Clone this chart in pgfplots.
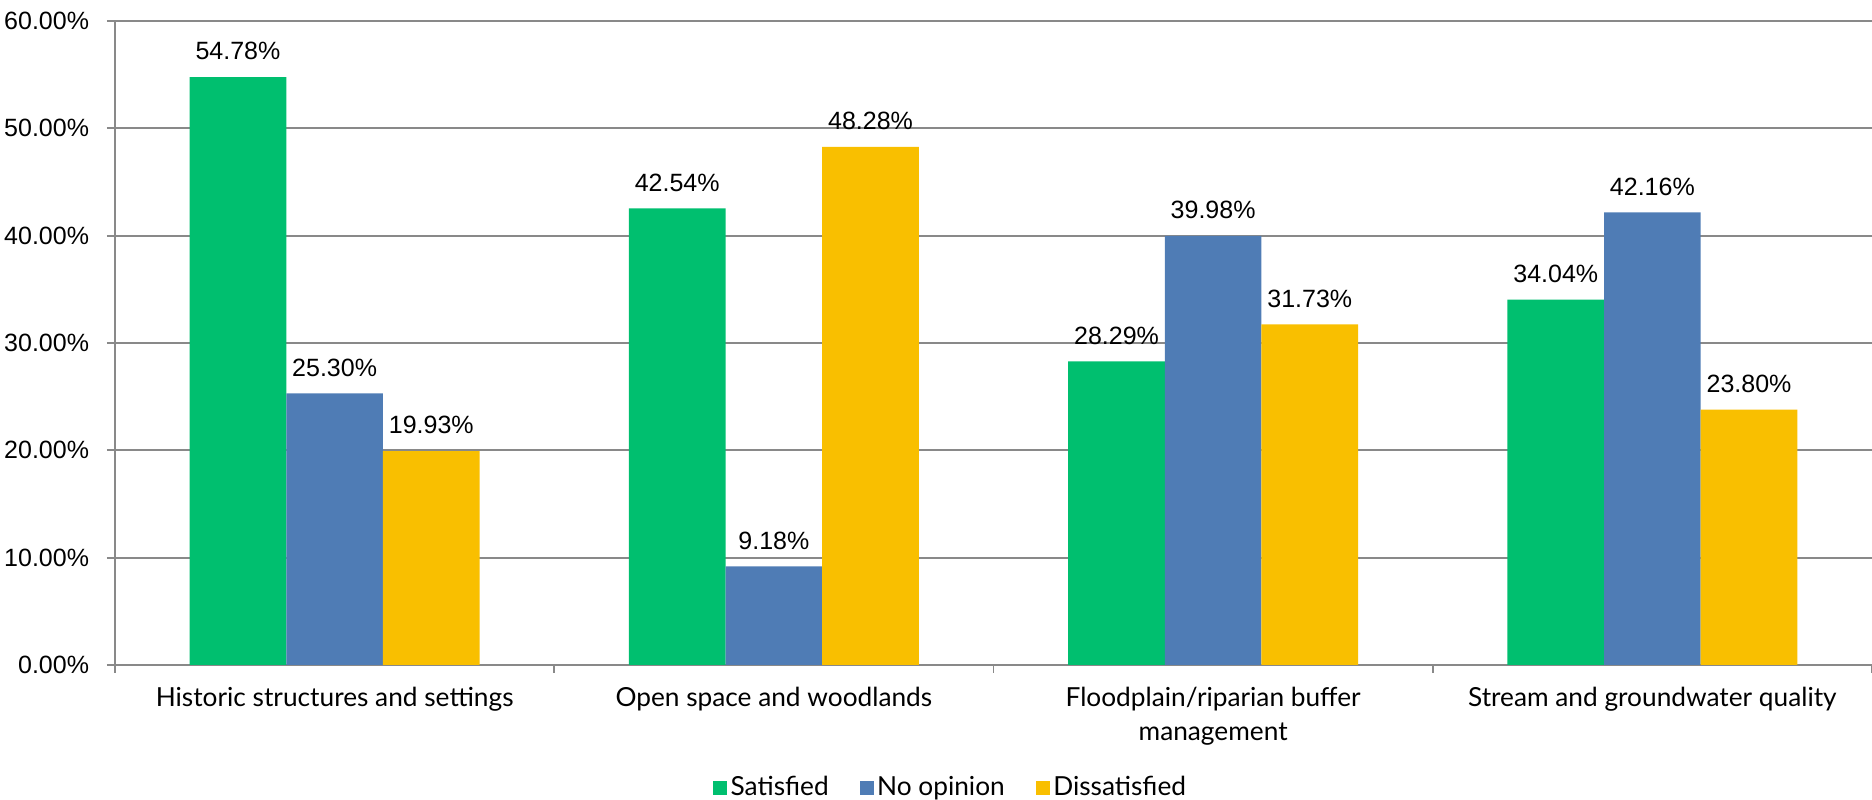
\documentclass[border=0pt]{standalone}
\usepackage{pgfplots}
\pgfplotsset{compat=1.18}
\usepackage{fontspec}
\setmainfont{Liberation Sans}
\newfontfamily\catfont{Lato}

\definecolor{cSat}{RGB}{0,191,111}
\definecolor{cNo}{RGB}{79,124,181}
\definecolor{cDis}{RGB}{249,191,0}
\definecolor{gridgray}{RGB}{137,137,137}

\begin{document}
\begin{tikzpicture}[x=1pt,y=1pt]
\useasboundingbox (-46,-54) rectangle (702.8,266);
\begin{axis}[
at={(0,0)}, anchor=south west,
scale only axis,
width=702.8pt, height=257.6pt,
xmin=0, xmax=4,
ymin=0, ymax=60,
ybar, bar width=0.22,
ytick={0,10,...,60},
yticklabel={\pgfmathprintnumber[fixed,fixed zerofill,precision=2]{\tick}\%},
/pgf/number format/assume math mode=true,
xtick={0.5,1.5,2.5,3.5},
xticklabels={Historic structures and settings, Open space and woodlands, {Floodplain/riparian buffer\\management}, Stream and groundwater quality},
minor xtick={0,1,2,3,4},
major x tick style={draw=none},
tick align=outside,
major tick length=3.2pt,
minor tick length=3.2pt,
tick style={draw=gridgray, line width=0.7pt},
axis x line*=bottom,
axis y line*=left,
axis line style={draw=gridgray, line width=0.8pt},
ymajorgrids,
grid style={draw=gridgray, line width=0.7pt},
yticklabel style={font=\fontsize{10}{12}\selectfont, inner sep=0pt, xshift=-7pt},
xticklabel style={font=\catfont\fontsize{10.5}{13.6}\selectfont, align=center, inner sep=0pt, anchor=north, yshift=-5.6pt},
nodes near coords={\pgfmathprintnumber[fixed,fixed zerofill,precision=2]{\pgfplotspointmeta}\%},
nodes near coords style={font=\fontsize{10}{12}\selectfont, anchor=south, inner sep=0pt, yshift=6.6pt, text=black},
legend style={at={(0.476,-0.191)}, anchor=center, draw=none, fill=none,
  font=\catfont\fontsize{10.5}{12}\selectfont,
  legend columns=-1,
  /tikz/every even column/.append style={column sep=11pt},
  nodes={inner sep=1.4pt}},
legend image code/.code={\fill[#1] (0pt,-2.8pt) rectangle (5.6pt,2.8pt);},
]
\addplot[fill=cSat, draw=none, bar shift=-0.22] coordinates {(0.5,54.78) (1.5,42.54) (2.5,28.29) (3.5,34.04)};
\addlegendentry{Satisfied}
\addplot[fill=cNo, draw=none, bar shift=0] coordinates {(0.5,25.30) (1.5,9.18) (2.5,39.98) (3.5,42.16)};
\addlegendentry{No opinion}
\addplot[fill=cDis, draw=none, bar shift=0.22] coordinates {(0.5,19.93) (1.5,48.28) (2.5,31.73) (3.5,23.80)};
\addlegendentry{Dissatisfied}
\end{axis}
\end{tikzpicture}
\end{document}
